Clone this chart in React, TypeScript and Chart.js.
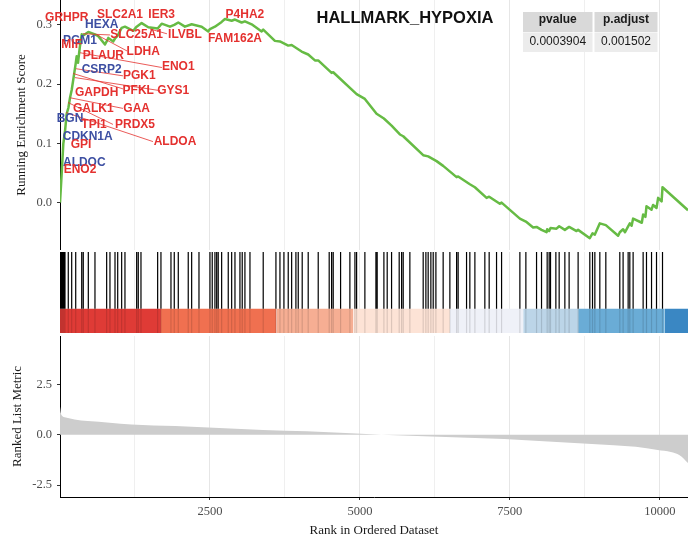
import React, { useEffect, useRef } from 'react';
import { Chart, registerables } from 'chart.js';

Chart.register(...registerables);

// ---------- data ----------
const X_MAX = 10470;
const xGridValues = [1250, 2500, 3750, 5000, 6250, 7500, 8750, 10000];
const xTickLabels = [2500, 5000, 7500, 10000];

const esTicks = [0, 0.1, 0.2, 0.3];
const metricTicks = [-2.5, 0, 2.5];

// running enrichment score: [rank, ES]
const esCurve: [number, number][] = [
  [0, 0], [28, 0.049], [55, 0.099], [83, 0.12], [111, 0.15], [140, 0.16], [167, 0.177],
  [195, 0.19], [222, 0.208], [262, 0.235], [278, 0.247], [300, 0.236], [330, 0.262],
  [362, 0.284], [400, 0.283], [472, 0.288], [583, 0.284], [638, 0.281], [750, 0.267],
  [778, 0.272], [805, 0.278], [888, 0.272], [917, 0.277], [962, 0.282], [1028, 0.295],
  [1083, 0.297], [1222, 0.29], [1278, 0.297], [1361, 0.303], [1472, 0.296], [1628, 0.294],
  [1695, 0.302], [1833, 0.297], [1905, 0.3], [1972, 0.304], [2083, 0.297], [2195, 0.301],
  [2362, 0.297], [2472, 0.289], [2500, 0.293], [2583, 0.297], [2695, 0.305], [2750, 0.31],
  [2862, 0.307], [2917, 0.309], [3028, 0.304], [3083, 0.306], [3195, 0.301], [3362, 0.289],
  [3388, 0.292], [3583, 0.273], [3667, 0.272], [3805, 0.265], [3862, 0.266], [4028, 0.255],
  [4138, 0.25], [4250, 0.24], [4305, 0.24], [4528, 0.219], [4555, 0.22], [4945, 0.183],
  [5083, 0.175], [5278, 0.15], [5400, 0.142], [5528, 0.13], [5667, 0.115], [5722, 0.112],
  [6055, 0.08], [6138, 0.078], [6278, 0.07], [6388, 0.062], [6612, 0.043], [6638, 0.044],
  [6833, 0.031], [6917, 0.026], [7112, 0.008], [7155, 0.01], [7333, -0.002], [7362, 0.0],
  [7667, -0.027], [7767, -0.032], [7888, -0.042], [7945, -0.041], [8028, -0.046],
  [8112, -0.05], [8122, -0.045], [8155, -0.048], [8178, -0.043], [8278, -0.044],
  [8322, -0.04], [8417, -0.046], [8488, -0.041], [8612, -0.048], [8638, -0.046],
  [8833, -0.06], [8878, -0.052], [8917, -0.054], [9000, -0.035], [9100, -0.038],
  [9305, -0.056], [9333, -0.05], [9388, -0.045], [9420, -0.05], [9472, -0.04],
  [9500, -0.035], [9530, -0.039], [9555, -0.027], [9700, -0.034], [9722, -0.02],
  [9760, -0.024], [9778, -0.006], [9862, -0.012], [9888, -0.004], [9945, -0.009],
  [9972, 0.008], [10030, 0.002], [10045, 0.026], [10470, -0.013],
];

// ranks of gene-set members (hit lines)
const hitRanks = [
  8, 18, 30, 42, 55, 70, 83, 138, 195, 262, 362, 388, 472, 583, 778, 833, 917, 962, 1028,
  1083, 1278, 1305, 1350, 1628, 1683, 1850, 1905, 1972, 2138, 2195, 2317, 2500, 2538, 2583,
  2612, 2638, 2695, 2805, 2862, 2917, 3000, 3038, 3083, 3167, 3388, 3600, 3667, 3733, 3805,
  3862, 3933, 3972, 4038, 4138, 4305, 4488, 4528, 4555, 4678, 4833, 4917, 4945, 5083, 5267,
  5288, 5400, 5455, 5528, 5655, 5695, 5722, 5833, 6055, 6100, 6138, 6183, 6222, 6267, 6388,
  6500, 6612, 6638, 6778, 6833, 6917, 7083, 7155, 7278, 7362, 7667, 7767, 7945, 8028, 8122,
  8155, 8178, 8267, 8322, 8417, 8488, 8638, 8833, 8878, 8917, 9000, 9100, 9333, 9388, 9472,
  9500, 9555, 9722, 9778, 9862, 9945, 10045,
];

// colour band segments along the ranked list
const bandStarts = [0, 1683, 3611, 4889, 6500, 7722, 8639, 10083];
const bandEnds = [1683, 3611, 4889, 6500, 7722, 8639, 10083, 10470];
const bandColors = ['#df3b36', '#f07050', '#f6ae93', '#fde3d6', '#eff1f8', '#bcd5e8', '#6aacd6', '#3a87c3'];

// ranked list metric: [rank, metric]
const metricCurve: [number, number][] = [
  [0, 1.39], [23, 0.98], [96, 0.86], [243, 0.76], [462, 0.68], [827, 0.6], [1193, 0.51],
  [1924, 0.43], [2655, 0.33], [3386, 0.24], [4117, 0.17], [4848, 0.07], [5360, 0.0],
  [6310, -0.1], [7041, -0.18], [7772, -0.27], [8503, -0.4], [9234, -0.52], [9600, -0.6],
  [9965, -0.76], [10184, -0.86], [10330, -1.02], [10470, -1.4],
];

// gene labels (annotation positions in data units)
const geneNames = [
  'GRHPR', 'HEXA', 'SLC2A1', 'IER3', 'P4HA2', 'PGM1', 'MIF', 'SLC25A1', 'ILVBL', 'FAM162A',
  'LDHA', 'PLAUR', 'ENO1', 'CSRP2', 'PGK1', 'GAPDH', 'PFKL', 'GYS1', 'GALK1', 'GAA', 'BGN',
  'TPI1', 'PRDX5', 'CDKN1A', 'ALDOA', 'GPI', 'ALDOC', 'ENO2',
];
const geneBlue = ['HEXA', 'PGM1', 'CSRP2', 'BGN', 'CDKN1A', 'ALDOC'];
const geneLabelRank = [
  112, 695, 1000, 1695, 3083, 333, 195, 1278, 2083, 2917, 1388, 722, 1972, 695, 1322, 612,
  1305, 1888, 555, 1278, 167, 567, 1250, 462, 1917, 350, 405, 333,
];
const geneLabelES = [
  0.312, 0.301, 0.317, 0.317, 0.317, 0.274, 0.266, 0.283, 0.283, 0.277, 0.255, 0.248, 0.229,
  0.224, 0.215, 0.185, 0.189, 0.189, 0.158, 0.158, 0.141, 0.131, 0.131, 0.112, 0.103, 0.097,
  0.067, 0.056,
];

// connector segments
const linkFromRank = [383, 617, 333, 267, 217, 250, 167, 133, 100, 1500];
const linkFromES = [0.285, 0.283, 0.253, 0.226, 0.218, 0.211, 0.177, 0.169, 0.152, 0.293];
const linkToRank = [833, 1117, 1700, 1050, 1050, 1667, 1050, 883, 1550, 1783];
const linkToES = [0.283, 0.256, 0.228, 0.214, 0.192, 0.189, 0.159, 0.132, 0.103, 0.285];

const plotTitle = 'HALLMARK_HYPOXIA';
const tableHeaders = ['pvalue', 'p.adjust'];
const tableValues = ['0.0003904', '0.001502'];

// ---------- styles ----------
const SERIF = "'Liberation Serif', 'DejaVu Serif', serif";
const SANS = "'Liberation Sans', Arial, sans-serif";
const RED = '#e4312f';
const BLUE = '#3d4fa2';
const GREEN = '#66bb44';

const gridColor = (c: any) => (c.tick && c.tick.value % 2500 === 0 ? '#e6e6e6' : '#efefef');

function xScale(showLabels: boolean): any {
  return {
    type: 'linear',
    min: 0,
    max: X_MAX,
    afterBuildTicks: (s: any) => {
      s.ticks = xGridValues.map((v) => ({ value: v }));
    },
    grid: {
      display: true,
      color: gridColor,
      lineWidth: 1,
      drawTicks: showLabels,
      tickLength: 3,
      tickColor: (c: any) => (c.tick && xTickLabels.includes(c.tick.value) ? '#333' : 'rgba(0,0,0,0)'),
    },
    border: { display: showLabels, color: '#000', width: 1 },
    ticks: {
      display: showLabels,
      autoSkip: false,
      maxRotation: 0,
      padding: 4,
      color: '#4d4d4d',
      font: { family: SERIF, size: 12.5 },
      callback: (v: any) => (xTickLabels.includes(Number(v)) ? String(v) : ''),
    },
    title: showLabels
      ? {
          display: true,
          text: 'Rank in Ordered Dataset',
          color: '#1a1a1a',
          font: { family: SERIF, size: 13 },
          padding: { top: 0, bottom: 5.5 },
        }
      : { display: false },
    afterFit: (s: any) => {
      s.height = showLabels ? 47 : 0;
      s.paddingLeft = 0;
      s.paddingRight = 0;
    },
  };
}

function yScale(min: number, max: number, ticks: number[], title: string, titlePad: number): any {
  return {
    type: 'linear',
    min,
    max,
    afterBuildTicks: (s: any) => {
      s.ticks = ticks.map((v) => ({ value: v }));
    },
    grid: { display: true, drawOnChartArea: false, drawTicks: true, tickLength: 3, tickColor: '#333' },
    border: { display: true, color: '#000', width: 1 },
    ticks: {
      padding: 5,
      color: '#4d4d4d',
      font: { family: SERIF, size: 12.5 },
      callback: (v: any) => Number(v).toFixed(1),
    },
    title: {
      display: true,
      text: title,
      color: '#1a1a1a',
      font: { family: SERIF, size: 13 },
      padding: { top: titlePad, bottom: 0 },
    },
    afterFit: (s: any) => {
      s.width = 60;
      s.paddingTop = 0;
      s.paddingBottom = 0;
    },
  };
}

const baseOptions: any = {
  responsive: false,
  animation: false,
  devicePixelRatio: 1,
  layout: { padding: 0 },
  events: [],
  plugins: { legend: { display: false }, tooltip: { enabled: false }, title: { display: false } },
};

const annotationPlugin = {
  id: 'gseaAnnotations',
  afterDatasetsDraw(chart: any) {
    const { ctx } = chart;
    const x = chart.scales.x;
    const y = chart.scales.y;
    ctx.save();
    ctx.strokeStyle = RED;
    ctx.lineWidth = 0.8;
    linkFromRank.forEach((r, i) => {
      ctx.beginPath();
      ctx.moveTo(x.getPixelForValue(r), y.getPixelForValue(linkFromES[i]));
      ctx.lineTo(x.getPixelForValue(linkToRank[i]), y.getPixelForValue(linkToES[i]));
      ctx.stroke();
    });
    ctx.font = `bold 12px ${SANS}`;
    ctx.textAlign = 'center';
    ctx.textBaseline = 'middle';
    geneNames.forEach((g, i) => {
      ctx.fillStyle = geneBlue.includes(g) ? BLUE : RED;
      ctx.fillText(g, x.getPixelForValue(geneLabelRank[i]), y.getPixelForValue(geneLabelES[i]));
    });
    ctx.restore();
  },
  afterDraw(chart: any) {
    const { ctx } = chart;
    ctx.save();
    // title
    ctx.fillStyle = '#111';
    ctx.font = `bold 16.5px ${SANS}`;
    ctx.textAlign = 'center';
    ctx.textBaseline = 'middle';
    ctx.fillText(plotTitle, 405, 18);
    // table
    const cols = [
      { x: 523, w: 69.5 },
      { x: 594.5, w: 63 },
    ];
    cols.forEach((c, i) => {
      ctx.fillStyle = '#d9d9d9';
      ctx.fillRect(c.x, 12, c.w, 20);
      ctx.fillStyle = '#ececec';
      ctx.fillRect(c.x, 32.5, c.w, 19.5);
      ctx.fillStyle = '#1a1a1a';
      ctx.font = `bold 12px ${SANS}`;
      ctx.fillText(tableHeaders[i], c.x + c.w / 2, 20);
      ctx.font = `12px ${SANS}`;
      ctx.fillText(tableValues[i], c.x + c.w / 2, 42);
    });
    ctx.restore();
  },
};

export default function App() {
  const topRef = useRef<HTMLCanvasElement>(null);
  const hitRef = useRef<HTMLCanvasElement>(null);
  const botRef = useRef<HTMLCanvasElement>(null);

  useEffect(() => {
    const charts: Chart[] = [];

    // --- running enrichment score panel ---
    charts.push(
      new Chart(topRef.current as HTMLCanvasElement, {
        type: 'line',
        data: {
          datasets: [
            {
              data: esCurve.map(([r, v]) => ({ x: r, y: v })),
              borderColor: GREEN,
              borderWidth: 2.5,
              pointRadius: 0,
              tension: 0,
              borderJoinStyle: 'round',
              fill: false,
            },
          ],
        },
        options: {
          ...baseOptions,
          scales: {
            x: xScale(false),
            y: yScale(-0.08, 0.342, esTicks, 'Running Enrichment Score', 14),
          },
        },
        plugins: [annotationPlugin],
      } as any)
    );

    // --- hit lines + colour band ---
    const hitTop: any[] = [];
    const hitBand: any[] = [];
    hitRanks.forEach((r) => {
      hitTop.push({ x: r, y: 0.3 }, { x: r, y: 1 }, { x: r, y: null });
      hitBand.push({ x: r, y: 0 }, { x: r, y: 0.3 }, { x: r, y: null });
    });
    const bandSets = bandStarts.map((s, i) => ({
      data: [
        { x: s, y: 0.3 },
        { x: bandEnds[i], y: 0.3 },
      ],
      borderWidth: 0,
      borderColor: 'rgba(0,0,0,0)',
      backgroundColor: bandColors[i],
      fill: { value: 0 },
      pointRadius: 0,
      order: 10,
    }));
    charts.push(
      new Chart(hitRef.current as HTMLCanvasElement, {
        type: 'line',
        data: {
          datasets: [
            { data: hitBand, borderColor: 'rgba(0,0,0,0.13)', borderWidth: 1.2, pointRadius: 0, fill: false, spanGaps: false, order: 0 },
            { data: hitTop, borderColor: '#000', borderWidth: 1.2, pointRadius: 0, fill: false, spanGaps: false, order: 1 },
            ...bandSets,
          ],
        },
        options: {
          ...baseOptions,
          layout: { padding: { left: 60, right: 0, top: 0, bottom: 0 } },
          scales: {
            x: xScale(false),
            y: { type: 'linear', min: 0, max: 1, display: false },
          },
        },
      } as any)
    );

    // --- ranked list metric ---
    charts.push(
      new Chart(botRef.current as HTMLCanvasElement, {
        type: 'line',
        data: {
          datasets: [
            {
              data: metricCurve.map(([r, v]) => ({ x: r, y: v })),
              borderWidth: 0,
              borderColor: 'rgba(0,0,0,0)',
              backgroundColor: '#cdcdcd',
              fill: 'origin',
              pointRadius: 0,
              cubicInterpolationMode: 'monotone',
            },
          ],
        },
        options: {
          ...baseOptions,
          scales: {
            x: xScale(true),
            y: yScale(-3.09, 4.9, metricTicks, 'Ranked List Metric', 9.5),
          },
        },
      } as any)
    );

    return () => charts.forEach((c) => c.destroy());
  }, []);

  return (
    <div style={{ position: 'absolute', left: 0, top: 0, width: 688, height: 544, background: '#fff', overflow: 'hidden' }}>
      <canvas ref={topRef} width={688} height={250} style={{ position: 'absolute', left: 0, top: 0, display: 'block' }} />
      <canvas ref={hitRef} width={688} height={81} style={{ position: 'absolute', left: 0, top: 252, display: 'block' }} />
      <canvas ref={botRef} width={688} height={208} style={{ position: 'absolute', left: 0, top: 336, display: 'block' }} />
    </div>
  );
}
